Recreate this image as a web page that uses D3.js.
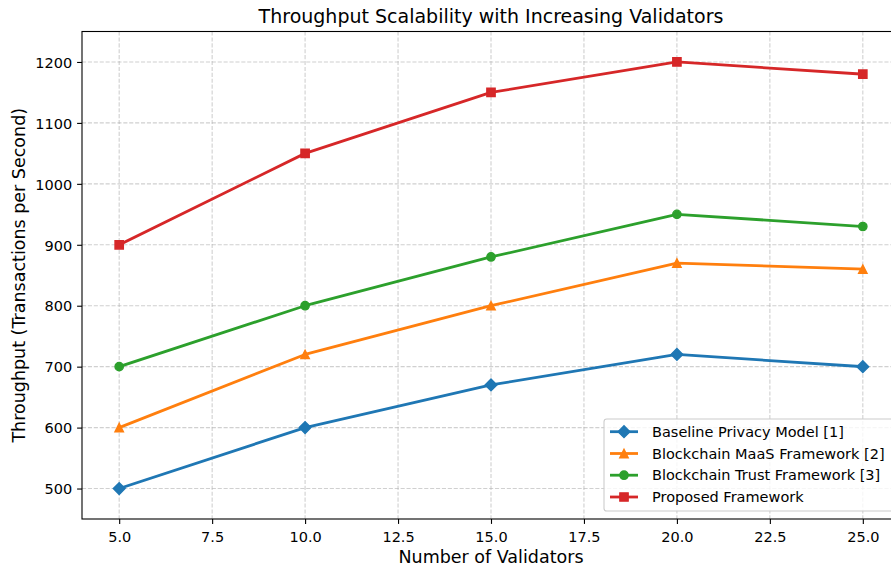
<!DOCTYPE html>
<html>
<head>
<meta charset="utf-8">
<script src="https://cdn.jsdelivr.net/npm/d3@7"></script>
<style>
  html, body { margin: 0; padding: 0; background: #fff; }
  svg { display: block; font-family: "DejaVu Sans", sans-serif; }
</style>
</head>
<body>
<svg id="chart" width="891" height="568"></svg>
<script>
const validators = [5, 10, 15, 20, 25];
const seriesNames = ["Baseline Privacy Model [1]", "Blockchain MaaS Framework [2]", "Blockchain Trust Framework [3]", "Proposed Framework"];
const baselineValues = [500, 600, 670, 720, 700];
const maasValues = [600, 720, 800, 870, 860];
const trustValues = [700, 800, 880, 950, 930];
const proposedValues = [900, 1050, 1150, 1200, 1180];
const xTicks = [5.0, 7.5, 10.0, 12.5, 15.0, 17.5, 20.0, 22.5, 25.0];
const yTicks = [500, 600, 700, 800, 900, 1000, 1100, 1200];
const colors = ["#1f77b4", "#ff7f0e", "#2ca02c", "#d62728"];
const markers = ["diamond", "triangle", "circle", "square"];

const series = seriesNames.map((name, i) => ({
  name,
  values: [baselineValues, maasValues, trustValues, proposedValues][i],
  color: colors[i],
  marker: markers[i]
}));

const svg = d3.select("#chart");
const m = { left: 82, right: 900, top: 31.5, bottom: 519 };
const x = d3.scaleLinear().domain([4, 26]).range([m.left, m.right]);
const y = d3.scaleLinear().domain([450, 1250]).range([m.bottom, m.top]);

// grid
const grid = svg.append("g");
grid.selectAll("line.gx").data(xTicks).join("line")
  .attr("x1", d => x(d)).attr("x2", d => x(d))
  .attr("y1", m.top).attr("y2", m.bottom)
  .attr("stroke", "#b0b0b0").attr("stroke-opacity", 0.6)
  .attr("stroke-width", 1.1).attr("stroke-dasharray", "4.1,1.8");
grid.selectAll("line.gy").data(yTicks).join("line")
  .attr("y1", d => y(d)).attr("y2", d => y(d))
  .attr("x1", m.left).attr("x2", m.right)
  .attr("stroke", "#b0b0b0").attr("stroke-opacity", 0.6)
  .attr("stroke-width", 1.1).attr("stroke-dasharray", "4.1,1.8");

// axes
const xAxis = d3.axisBottom(x).tickValues(xTicks).tickFormat(d3.format(".1f"))
  .tickSizeInner(4.9).tickSizeOuter(0).tickPadding(4.9);
const yAxis = d3.axisLeft(y).tickValues(yTicks).tickFormat(d3.format("d"))
  .tickSizeInner(4.9).tickSizeOuter(0).tickPadding(4.9);

const gx = svg.append("g").attr("transform", `translate(0,${m.bottom})`).call(xAxis);
const gy = svg.append("g").attr("transform", `translate(${m.left},0)`).call(yAxis);
[gx, gy].forEach(g => {
  g.select(".domain").remove();
  g.selectAll(".tick line").attr("stroke", "#000").attr("stroke-width", 1.1);
  g.selectAll(".tick text").attr("fill", "#000")
    .style("font-family", "'DejaVu Sans', sans-serif").style("font-size", "14.5px");
});
gx.selectAll(".tick text").attr("dy", null).attr("y", 22.7);
gy.selectAll(".tick text").attr("dy", "0.36em");

// lines
const line = d3.line().x((d, i) => x(validators[i])).y(d => y(d));
const symbolFor = (mk) => {
  if (mk === "diamond") return d3.symbol().type(d3.symbolSquare).size(8.3 * 8.3)();
  if (mk === "triangle") return "M0,-4.2L4.2,4.2L-4.2,4.2Z";
  if (mk === "circle") return d3.symbol().type(d3.symbolCircle).size(Math.PI * 4.15 * 4.15)();
  return d3.symbol().type(d3.symbolSquare).size(8.3 * 8.3)();
};
const markerTransform = (mk) => mk === "diamond" ? " rotate(45)" : "";

const plot = svg.append("g");
series.forEach(s => {
  plot.append("path").datum(s.values)
    .attr("d", line).attr("fill", "none")
    .attr("stroke", s.color).attr("stroke-width", 2.8)
    .attr("stroke-linejoin", "round").attr("stroke-linecap", "square");
  plot.selectAll(null).data(s.values).join("path")
    .attr("d", symbolFor(s.marker))
    .attr("transform", (d, i) => `translate(${x(validators[i])},${y(d)})` + markerTransform(s.marker))
    .attr("fill", s.color).attr("stroke", s.color).attr("stroke-width", 1.4)
    .attr("stroke-linejoin", "miter");
});

// spines
svg.append("rect").attr("x", m.left).attr("y", m.top)
  .attr("width", m.right - m.left).attr("height", m.bottom - m.top)
  .attr("fill", "none").attr("stroke", "#000").attr("stroke-width", 1.1);

// title and labels
svg.append("text").attr("x", (m.left + m.right) / 2).attr("y", 23)
  .attr("text-anchor", "middle").style("font-size", "19px").attr("fill", "#000")
  .text("Throughput Scalability with Increasing Validators");
svg.append("text").attr("x", (m.left + m.right) / 2).attr("y", 563)
  .attr("text-anchor", "middle").style("font-size", "17.5px").attr("fill", "#000")
  .text("Number of Validators");
svg.append("text")
  .attr("transform", `translate(25,${(m.top + m.bottom) / 2}) rotate(-90)`)
  .attr("text-anchor", "middle").style("font-size", "17.5px").attr("fill", "#000")
  .text("Throughput (Transactions per Second)");

// legend
const lg = svg.append("g");
lg.append("rect").attr("x", 604).attr("y", 419).attr("width", 291).attr("height", 92)
  .attr("rx", 2.8).attr("fill", "#fff").attr("fill-opacity", 0.8)
  .attr("stroke", "#cccccc").attr("stroke-width", 1.1);
const rowY = [431.7, 453.5, 475.2, 497];
series.forEach((s, i) => {
  const cy = rowY[i];
  lg.append("line").attr("x1", 610).attr("x2", 638).attr("y1", cy).attr("y2", cy)
    .attr("stroke", s.color).attr("stroke-width", 2.8);
  lg.append("path").attr("d", symbolFor(s.marker))
    .attr("transform", `translate(624,${cy})` + markerTransform(s.marker))
    .attr("fill", s.color).attr("stroke", s.color).attr("stroke-width", 1.4);
  lg.append("text").attr("x", 652).attr("y", cy).attr("dy", "0.36em")
    .style("font-size", "14.5px").attr("fill", "#000").text(s.name);
});
</script>
</body>
</html>
